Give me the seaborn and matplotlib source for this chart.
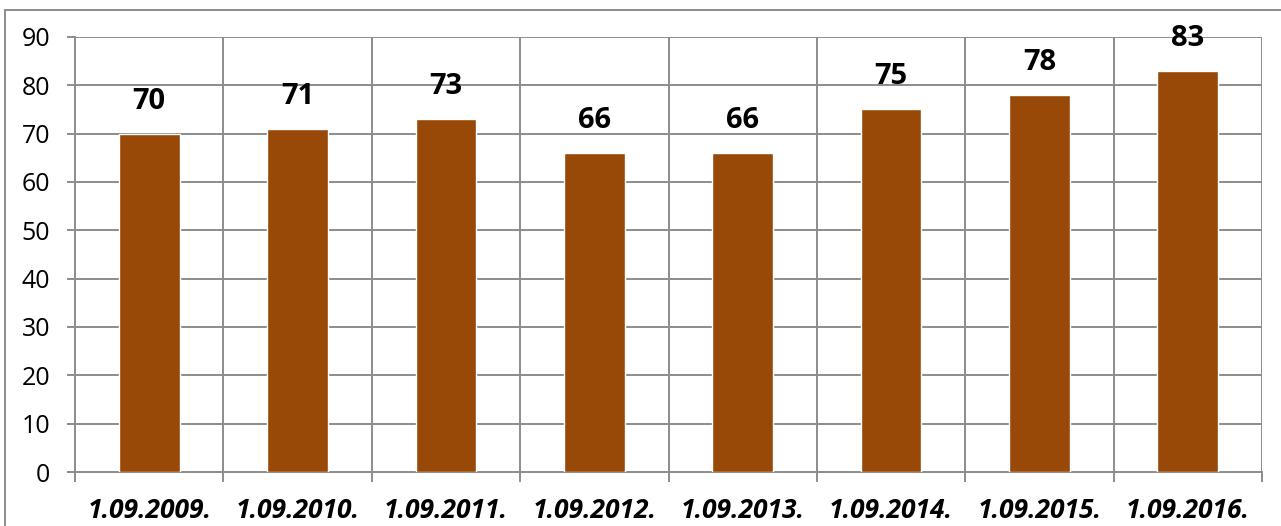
import matplotlib
matplotlib.use("Agg")
import matplotlib.pyplot as plt
import seaborn as sns
import pandas as pd
from matplotlib.patches import Rectangle

categories = ["1.09.2009.", "1.09.2010.", "1.09.2011.", "1.09.2012.",
              "1.09.2013.", "1.09.2014.", "1.09.2015.", "1.09.2016."]
values = [70, 71, 73, 66, 66, 75, 78, 83]
yticks = [0, 10, 20, 30, 40, 50, 60, 70, 80, 90]

sns.set_theme(style="white")
plt.rcParams['font.family'] = ['Open Sans', 'DejaVu Sans']

df = pd.DataFrame({"date": categories, "value": values})

fig = plt.figure(figsize=(12.81, 5.26), dpi=100)
ax = fig.add_axes([75/1281, 1-472/526, (1262-75)/1281, (472-37)/526])

grid_c = "#8c8c8c"
sns.barplot(data=df, x="date", y="value", color="#984807", width=0.41,
            saturation=1, ax=ax, zorder=3)

ax.set_ylim(0, 90)
ax.set_xlim(-0.5, len(categories) - 0.5)
ax.set_yticks(yticks)
ax.set_yticklabels([str(t) for t in yticks], fontsize=18, color="black")
ax.set_xlabel("")
ax.set_ylabel("")

for yv in yticks[1:]:
    ax.axhline(yv, color=grid_c, lw=1.4, zorder=1)
for i in range(len(categories)):
    ax.axvline(i + 0.5, color=grid_c, lw=1.4, zorder=1)

ax.set_xticks([i + 0.5 for i in range(-1, len(categories))], minor=True)
ax.tick_params(axis="x", which="minor", length=7, width=1.4, color=grid_c, direction="out", bottom=True)
ax.tick_params(axis="x", which="major", length=0, pad=18)
ax.tick_params(axis="y", length=6, width=1.4, color=grid_c, direction="out", left=True, pad=12)
for lbl in ax.get_xticklabels():
    lbl.set_fontsize(19)
    lbl.set_fontweight("bold")
    lbl.set_fontstyle("italic")
    lbl.set_color("black")

for s in ["top", "right"]:
    ax.spines[s].set_visible(False)
for s in ["left", "bottom"]:
    ax.spines[s].set_color(grid_c)
    ax.spines[s].set_linewidth(1.4)

for i, v in enumerate(values):
    ax.annotate(str(v), (i, v), xytext=(0, 13), textcoords="offset points",
                ha="center", va="bottom", fontsize=21, fontweight="bold", color="black")

fig.patches.append(Rectangle((5/1281, -0.1), 1.2, 1 - 10/526 + 0.1,
                             transform=fig.transFigure, fill=False,
                             edgecolor=grid_c, lw=1.4))

fig.savefig("out.png", dpi=100)
